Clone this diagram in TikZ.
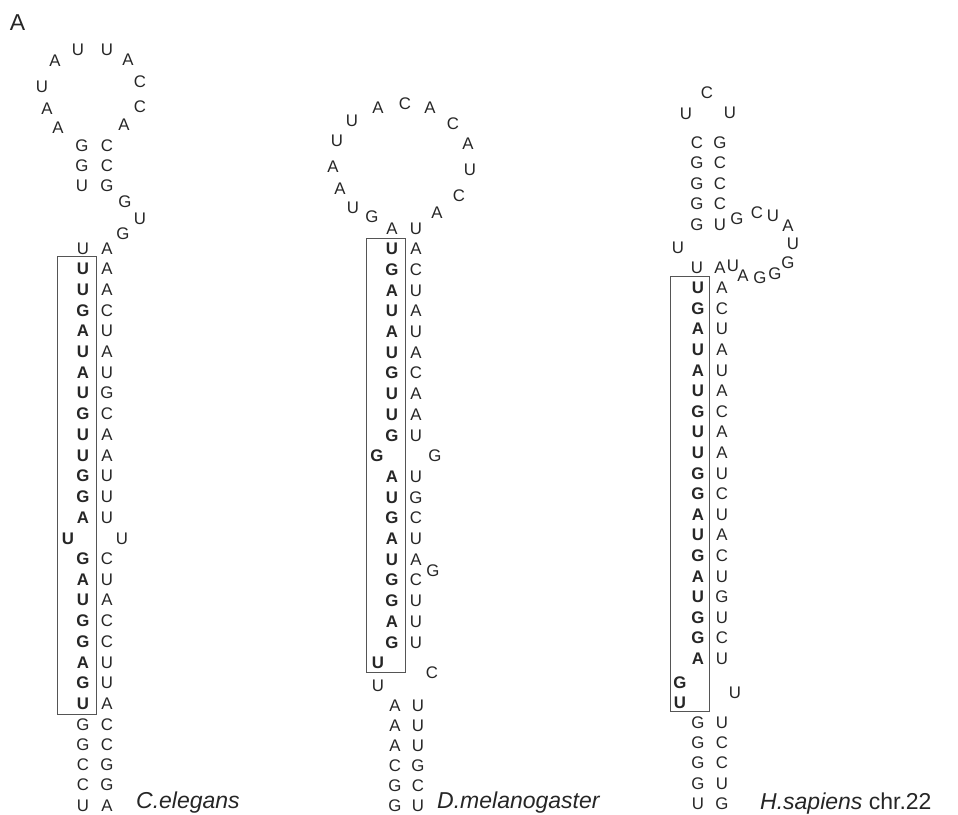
\documentclass[tikz,border=0pt]{standalone}
\usepackage{fontspec}
\setmainfont{Liberation Sans}
\definecolor{ink}{HTML}{262626}
\definecolor{boxc}{HTML}{555555}
\tikzset{
  nt/.style={font=\fontsize{16.8}{17}\selectfont, text=ink, inner sep=0pt, text height=12pt, text depth=0pt, anchor=center},
  ntb/.style={nt, font=\fontsize{16.8}{17}\selectfont\bfseries},
  mirbox/.style={draw=boxc, line width=0.8pt},
  lbl/.style={font=\fontsize{23}{23}\selectfont, text=ink, inner sep=0pt, anchor=base west},
}
% #1 prefix, #2 left style, #3 y0, #4 dy, #5 xl, #6 xr, #7 list
\newcommand\pairrows[7]{%
  \foreach \l/\r [count=\k from 0] in {#7}{%
    \pgfmathsetmacro\yy{#3+#4*\k}%
    \node[#2] (#1L\k) at (#5,\yy) {\l};
    \node[nt] (#1R\k) at (#6,\yy) {\r};
  }}
\newcommand\nt[4]{\node[nt] (#1) at (#2,#3) {#4};}
\newcommand\ntb[4]{\node[ntb] (#1) at (#2,#3) {#4};}
\begin{document}
\begin{tikzpicture}[x=1pt,y=-1pt]
\useasboundingbox (0,0) rectangle (958,814);
\node[font=\fontsize{23}{23}\selectfont, text=ink, inner sep=0pt, text height=16.5pt, text depth=0pt] (panel) at (17.5,22) {A};

% ---------------- C. elegans ----------------
\nt{ce1}{58}{127}{A} \nt{ce2}{47}{108}{A} \nt{ce3}{42}{86}{U} \nt{ce4}{55}{60}{A}
\nt{ce5}{78}{49}{U} \nt{ce6}{107}{49}{U} \nt{ce7}{128}{59}{A} \nt{ce8}{140}{81}{C}
\nt{ce9}{140}{106}{C} \nt{ce10}{124}{124}{A}
\pairrows{ceT}{nt}{145}{20.3}{82}{107}{G/C,G/C,U/G}
\nt{ce11}{125}{201}{G} \nt{ce12}{140}{218}{U} \nt{ce13}{123}{233}{G}
\pairrows{ceA}{nt}{248}{20.7}{83}{107}{U/A}
\pairrows{ceB}{ntb}{268.7}{20.7}{83}{107}{U/A,U/A,G/C,A/U,U/A,A/U,U/G,G/C,U/A,U/A,G/U,G/U,A/U}
\ntb{ce14}{68}{538}{U} \nt{ce15}{122}{538}{U}
\pairrows{ceC}{ntb}{558.5}{20.7}{83}{107}{G/C,A/U,U/A,G/C,G/C,A/U,G/U,U/A}
\pairrows{ceD}{nt}{724}{20.25}{83}{107}{G/C,G/C,C/G,C/G,U/A}
\draw[mirbox] (57,256) rectangle (96,714);
\node[lbl] (celbl) at (136,808) {\itshape C.elegans};

% ---------------- D. melanogaster ----------------
\nt{dm1}{372}{216}{G} \nt{dm2}{353}{207}{U} \nt{dm3}{340}{188}{A} \nt{dm4}{333}{166}{A}
\nt{dm5}{337}{140}{U} \nt{dm6}{352}{120}{U} \nt{dm7}{378}{107}{A} \nt{dm8}{405}{103}{C}
\nt{dm9}{430}{107}{A} \nt{dm10}{453}{123}{C} \nt{dm11}{468}{143}{A} \nt{dm12}{470}{169}{U}
\nt{dm13}{459}{195}{C} \nt{dm14}{437}{212}{A}
\pairrows{dmA}{nt}{228}{20.7}{392}{416}{A/U}
\pairrows{dmB}{ntb}{248.7}{20.7}{392}{416}{U/A,G/C,A/U,U/A,A/U,U/A,G/C,U/A,U/A,G/U}
\ntb{dm15}{377}{455.7}{G} \nt{dm16}{435}{455.7}{G}
\pairrows{dmC}{ntb}{476.4}{20.7}{392}{416}{A/U,U/G,G/C,A/U,U/A,G/C,G/U,A/U,G/U}
\nt{dm17}{433}{570}{G}
\ntb{dm18}{378}{662.7}{U} \nt{dm19}{432}{672}{C}
\nt{dm20}{378}{685}{U}
\pairrows{dmD}{nt}{705}{20.0}{395}{418}{A/U,A/U,A/U,C/G,G/C,G/U}
\draw[mirbox] (366,238) rectangle (405,672);
\node[lbl] (dmlbl) at (437,808) {\itshape D.melanogaster};

% ---------------- H. sapiens ----------------
\nt{hs1}{686}{113}{U} \nt{hs2}{707}{92}{C} \nt{hs3}{730}{112}{U}
\pairrows{hsT}{nt}{142}{20.5}{697}{720}{C/G,G/C,G/C,G/C,G/U}
\nt{hs4}{678}{247}{U}
\nt{hs5}{737}{218}{G} \nt{hs6}{757}{212}{C} \nt{hs7}{773}{215}{U} \nt{hs8}{788}{225}{A}
\nt{hs9}{793}{243}{U} \nt{hs10}{788}{262}{G} \nt{hs11}{775}{273}{G} \nt{hs12}{760}{277}{G}
\nt{hs13}{743}{275}{A} \nt{hs14}{733}{265}{U}
\pairrows{hsA}{nt}{267}{20.6}{697}{720}{U/A}
\pairrows{hsB}{ntb}{287.6}{20.6}{698}{722}{U/A,G/C,A/U,U/A,A/U,U/A,G/C,U/A,U/A,G/U,G/C,A/U,U/A,G/C,A/U,U/G,G/U,G/C,A/U}
\ntb{hs15}{680}{682}{G} \ntb{hs16}{680}{702}{U} \nt{hs17}{735}{692}{U}
\pairrows{hsC}{nt}{722}{20.4}{698}{722}{G/U,G/C,G/C,G/U,U/G}
\draw[mirbox] (670,276) rectangle (709,711);
\node[lbl] (hslbl) at (760,809) {{\itshape H.sapiens} chr.22};
\end{tikzpicture}
\end{document}
